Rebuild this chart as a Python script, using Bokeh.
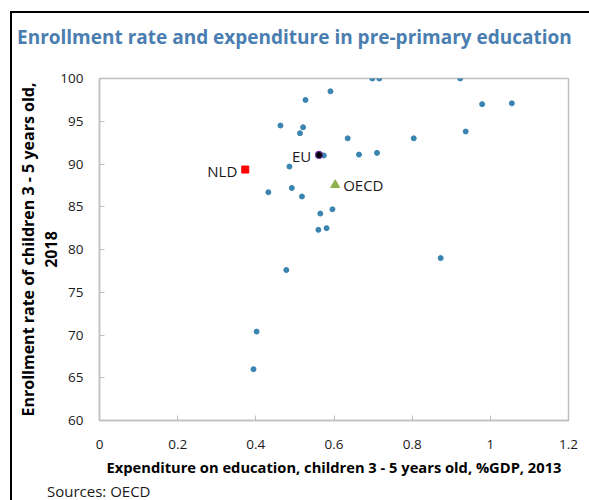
from bokeh.plotting import figure
from bokeh.models import Range1d, FixedTicker, ColumnDataSource, LabelSet, Div
from bokeh.layouts import column
from bokeh.core.properties import value
from bokeh.embed import file_html
from bokeh.resources import INLINE

# ---- data ----
exp_x = [0.591, 0.527, 0.463, 0.521, 0.513, 0.574, 0.486, 0.432, 0.492, 0.518,
         0.596, 0.565, 0.560, 0.581, 0.698, 0.716, 0.923, 0.979, 1.055, 0.635,
         0.804, 0.937, 0.664, 0.710, 0.873, 0.478, 0.402, 0.394]
enr_y = [98.5, 97.5, 94.5, 94.3, 93.6, 91.0, 89.7, 86.7, 87.2, 86.2,
         84.7, 84.2, 82.3, 82.5, 100.0, 100.0, 100.0, 97.0, 97.1, 93.0,
         93.0, 93.8, 91.1, 91.3, 79.0, 77.6, 70.4, 66.0]

hl_names = ["NLD", "EU", "OECD"]
hl_x = [0.373, 0.562, 0.603]
hl_y = [89.35, 91.06, 87.55]

x_ticks = [0, 0.2, 0.4, 0.6, 0.8, 1.0, 1.2]
x_tick_labels = ["0", "0.2", "0.4", "0.6", "0.8", "1", "1.2"]
y_ticks = [60, 65, 70, 75, 80, 85, 90, 95, 100]

TITLE = "Enrollment rate and expenditure in pre-primary education"
SOURCE = "Sources: OECD"

FONT = "Open Sans"
TITLE_COLOR = "#4a7eb0"
GRID = "#bfbfbf"

title_div = Div(text=TITLE, width=577, height=40, margin=0,
                styles={"box-sizing": "border-box", "padding-top": "13px",
                        "padding-left": "5px", "font-family": FONT,
                        "font-size": "19px", "font-weight": "bold",
                        "line-height": "23px", "color": TITLE_COLOR,
                        "white-space": "nowrap", "background": "white"})

p = figure(frame_width=469, frame_height=342,
           min_border_left=87, min_border_right=21,
           min_border_top=25, min_border_bottom=63,
           x_range=Range1d(0, 1.2), y_range=Range1d(60, 100),
           output_backend="svg", toolbar_location=None, margin=0)
p.title.text_font_size = "1px"
p.title.standoff = 0
p.title.visible = False

p.grid.visible = False
p.outline_line_color = GRID
p.outline_line_width = 1.5
p.background_fill_color = "white"
p.border_fill_color = "white"

for ax in (p.xaxis[0], p.yaxis[0]):
    ax.axis_line_color = GRID
    ax.axis_line_width = 1.5
    ax.major_tick_line_color = GRID
    ax.major_tick_in = 5
    ax.major_tick_out = 0
    ax.minor_tick_line_color = None
    ax.major_label_text_font = FONT
    ax.major_label_text_font_size = "13.5px"
    ax.major_label_text_color = "#1a1a1a"
    ax.axis_label_text_font = FONT
    ax.axis_label_text_font_style = "bold"
    ax.axis_label_text_color = "#000000"

p.xaxis.axis_label_text_font_size = "14.7px"
p.yaxis.axis_label_text_font_size = "16px"
p.yaxis.axis_label_text_line_height = 1.05
p.xaxis.ticker = FixedTicker(ticks=x_ticks)
p.xaxis.major_label_overrides = {t: l for t, l in zip(x_ticks, x_tick_labels)}
p.yaxis.ticker = FixedTicker(ticks=y_ticks)
p.xaxis.axis_label = "Expenditure on education, children 3 - 5 years old, %GDP, 2013"
p.yaxis.axis_label = "Enrollment rate of children 3 - 5 years old,\n2018"
p.xaxis.major_label_standoff = 19
p.xaxis.axis_label_standoff = 5
p.yaxis.major_label_standoff = 16
p.yaxis.axis_label_standoff = -5

src = ColumnDataSource(dict(x=exp_x, y=enr_y))
p.scatter("x", "y", source=src, size=5, marker="circle",
          fill_color="#3a84b0", line_color="#3a84b0")

p.scatter(x=[hl_x[0]], y=[hl_y[0]], marker="square", size=7,
          fill_color="#ff0000", line_color="#ff0000")
p.scatter(x=[hl_x[1]], y=[hl_y[1]], marker="circle", size=7,
          fill_color="#000000", line_color="#7030a0", line_width=1.2)
p.scatter(x=[hl_x[2]], y=[hl_y[2]], marker="triangle", size=9,
          fill_color="#8fb24f", line_color="#8fb24f")

left_src = ColumnDataSource(dict(x=hl_x[:2], y=hl_y[:2], name=hl_names[:2]))
right_src = ColumnDataSource(dict(x=hl_x[2:], y=hl_y[2:], name=hl_names[2:]))
p.add_layout(LabelSet(x="x", y="y", text="name", source=left_src,
                      x_offset=-8, y_offset=-1, text_align="right",
                      text_baseline="middle", text_font=value(FONT),
                      text_font_size="15px", text_color="#1a1a1a"))
p.add_layout(LabelSet(x="x", y="y", text="name", source=right_src,
                      x_offset=8, y_offset=0, text_align="left",
                      text_baseline="middle", text_font=value(FONT),
                      text_font_size="15px", text_color="#1a1a1a"))

src_div = Div(text=SOURCE, width=577, height=17, margin=0,
              styles={"box-sizing": "border-box", "padding-left": "35px",
                      "font-family": FONT, "font-size": "15px",
                      "line-height": "17px", "color": "#1a1a1a",
                      "white-space": "nowrap", "background": "white"})

inner = column(title_div, p, src_div, spacing=0, margin=0,
               styles={"border-left": "2px solid #000", "border-top": "2px solid #000",
                       "background": "white"})
root = column(inner, spacing=0, margin=0,
              styles={"padding-left": "10px", "padding-top": "11px",
                      "background": "white"})

open("out.html", "w").write(file_html(root, INLINE))
